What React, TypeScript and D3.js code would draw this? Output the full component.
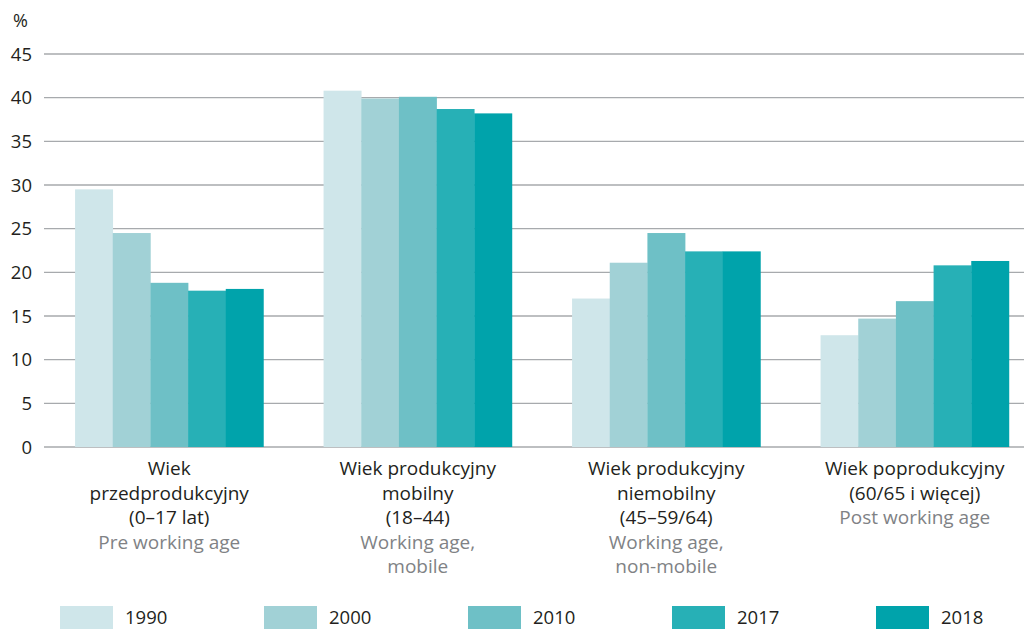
import React from "react";
import * as d3 from "d3";

const categories = [
  ["Wiek", "przedprodukcyjny", "(0–17 lat)"],
  ["Wiek produkcyjny", "mobilny", "(18–44)"],
  ["Wiek produkcyjny", "niemobilny", "(45–59/64)"],
  ["Wiek poprodukcyjny", "(60/65 i więcej)"],
];
const categoriesEn = [
  ["Pre working age"],
  ["Working age,", "mobile"],
  ["Working age,", "non-mobile"],
  ["Post working age"],
];
const years = ["1990", "2000", "2010", "2017", "2018"];
const colors = ["#cfe6ea", "#a1d1d6", "#6ec0c6", "#27b0b6", "#00a3ab"];
const values1990 = [29.5, 40.8, 17.0, 12.8];
const values2000 = [24.5, 39.9, 21.1, 14.7];
const values2010 = [18.8, 40.1, 24.5, 16.7];
const values2017 = [17.9, 38.7, 22.4, 20.8];
const values2018 = [18.1, 38.2, 22.4, 21.3];
const series = [values1990, values2000, values2010, values2017, values2018];
const yTicks = [0, 5, 10, 15, 20, 25, 30, 35, 40, 45];

const W = 1029;
const H = 629;
const FONT = "'Open Sans', 'Noto Sans', sans-serif";

export default function App() {
  const y = d3.scaleLinear().domain([0, 45]).range([447, 54]);
  const idx = categories.map((_, i) => String(i));
  const x0 = d3
    .scaleBand()
    .domain(idx)
    .range([45, 1039])
    .paddingInner(0.242)
    .paddingOuter(0.121);
  const x1 = d3.scaleBand().domain(years).range([0, x0.bandwidth()]);
  const lineH = 24.6;

  return (
    <svg
      width={W}
      height={H}
      style={{ position: "absolute", left: 0, top: 0, display: "block" }}
      fontFamily={FONT}
    >
      <rect width={W} height={H} fill="#fff" />
      <text x={13} y={27} fontSize={18} fill="#231f20">%</text>
      {yTicks.map((t) => (
        <g key={t}>
          <line
            x1={44}
            x2={1024}
            y1={y(t)}
            y2={y(t)}
            stroke="#a7aaad"
            strokeWidth={t === 0 ? 1.6 : 1.3}
          />
          <text
            x={32}
            y={y(t)}
            dy="0.36em"
            textAnchor="end"
            fontSize={18.5}
            fill="#231f20"
          >
            {t}
          </text>
        </g>
      ))}
      {idx.map((c, ci) => (
        <g key={c} transform={`translate(${x0(c)},0)`}>
          {years.map((yr, si) => (
            <rect
              key={yr}
              x={x1(yr)!}
              width={x1.bandwidth() + 0.3}
              y={y(series[si][ci])}
              height={y(0) - y(series[si][ci])}
              fill={colors[si]}
            />
          ))}
        </g>
      ))}
      {idx.map((c, ci) => {
        const cx = x0(c)! + x0.bandwidth() / 2;
        const pl = categories[ci];
        const en = categoriesEn[ci];
        return (
          <g key={"l" + c}>
            {pl.map((s, li) => (
              <text
                key={li}
                x={cx}
                y={475 + li * lineH}
                textAnchor="middle"
                fontSize={19}
                fill="#231f20"
              >
                {s}
              </text>
            ))}
            {en.map((s, li) => (
              <text
                key={"e" + li}
                x={cx}
                y={475 + (pl.length + li) * lineH}
                textAnchor="middle"
                fontSize={19}
                fill="#808285"
              >
                {s}
              </text>
            ))}
          </g>
        );
      })}
      {years.map((yr, i) => {
        const lx = 60 + i * 204;
        return (
          <g key={"lg" + yr}>
            <rect x={lx} y={606} width={53} height={23} fill={colors[i]} />
            <text x={lx + 65} y={624} fontSize={18.5} fill="#231f20">
              {yr}
            </text>
          </g>
        );
      })}
    </svg>
  );
}
